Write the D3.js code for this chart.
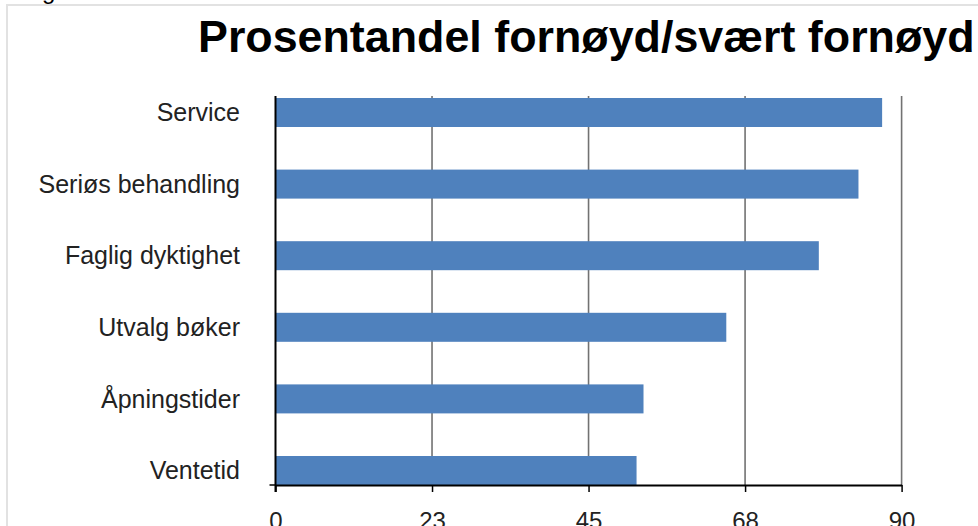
<!DOCTYPE html>
<html>
<head>
<meta charset="utf-8">
<script src="https://cdn.jsdelivr.net/npm/d3@7"></script>
<style>
  html, body { margin: 0; padding: 0; background: #fff; overflow: hidden; }
  svg { display: block; font-family: "Liberation Sans", Arial, sans-serif; }
</style>
</head>
<body>
<svg id="canvas"></svg>
<script>
// data
let categories = ['Service', 'Seriøs behandling', 'Faglig dyktighet', 'Utvalg bøker', 'Åpningstider', 'Ventetid']
let values = [87.2, 83.8, 78.1, 64.8, 52.9, 51.9]
let tickValues = [0, 22.5, 45, 67.5, 90]
let tickLabels = ['0', '23', '45', '68', '90']
let title = 'Prosentandel fornøyd/svært fornøyd'

let width = 978
let height = 526

let canvas = d3.select('#canvas')
    .attr('width', width)
    .attr('height', height)

// frame round the chart (runs past the window on the right and bottom)
canvas.append('rect')
    .attr('x', 7)
    .attr('y', 5)
    .attr('width', 1100)
    .attr('height', 700)
    .attr('fill', 'none')
    .attr('stroke', '#e2e2e2')
    .attr('stroke-width', 2)

// caption above the frame, only its descender shows
canvas.append('text')
    .attr('x', 6)
    .attr('y', -1)
    .attr('font-size', 24)
    .attr('fill', '#000')
    .text('Diagram')

canvas.append('text')
    .attr('x', 198)
    .attr('y', 51.5)
    .attr('font-size', 44.8)
    .attr('font-weight', 'bold')
    .attr('fill', '#000')
    .text(title)

let x = d3.scaleLinear()
    .domain([0, 90])
    .range([275.5, 901.6])

let y = d3.scaleBand()
    .domain(categories)
    .range([98, 485])
    .paddingInner(0.595)
    .paddingOuter(0)

let plotTop = 96
let plotBottom = 485

// gridlines
canvas.append('g')
    .selectAll('line')
    .data(tickValues.slice(1))
    .enter()
    .append('line')
    .attr('x1', (d) => x(d))
    .attr('x2', (d) => x(d))
    .attr('y1', plotTop)
    .attr('y2', plotBottom)
    .attr('stroke', '#727272')
    .attr('stroke-width', 1.6)

// bars
canvas.append('g')
    .selectAll('rect')
    .data(values)
    .enter()
    .append('rect')
    .attr('x', x(0))
    .attr('y', (d, i) => y(categories[i]))
    .attr('width', (d) => x(d) - x(0))
    .attr('height', y.bandwidth())
    .attr('fill', '#4F81BD')

// x axis
let xAxis = d3.axisBottom(x)
    .tickValues(tickValues)
    .tickFormat((d, i) => tickLabels[i])
    .tickSize(7)
    .tickSizeOuter(0)

let gx = canvas.append('g')
    .attr('transform', 'translate(0,' + plotBottom + ')')
    .call(xAxis)
gx.select('.domain').attr('stroke', '#000').attr('stroke-width', 2)
gx.selectAll('.tick line').attr('stroke', '#000').attr('stroke-width', 1.5)
gx.selectAll('.tick text')
    .attr('font-family', '"Liberation Sans", Arial, sans-serif')
    .attr('font-size', 24)
    .attr('fill', '#222')
    .attr('dy', null)
    .attr('y', 44)

// y axis line and labels
canvas.append('line')
    .attr('x1', x(0))
    .attr('x2', x(0))
    .attr('y1', plotTop)
    .attr('y2', plotBottom + 7)
    .attr('stroke', '#000')
    .attr('stroke-width', 2)

canvas.append('line')
    .attr('x1', x(0) - 6)
    .attr('x2', x(0))
    .attr('y1', plotBottom)
    .attr('y2', plotBottom)
    .attr('stroke', '#000')
    .attr('stroke-width', 1.5)

canvas.append('g')
    .selectAll('text')
    .data(categories)
    .enter()
    .append('text')
    .attr('x', 240)
    .attr('y', (d) => y(d) + y.bandwidth() / 2)
    .attr('dy', '0.35em')
    .attr('text-anchor', 'end')
    .attr('font-size', 25)
    .attr('fill', '#222')
    .text((d) => d)
</script>
</body>
</html>
